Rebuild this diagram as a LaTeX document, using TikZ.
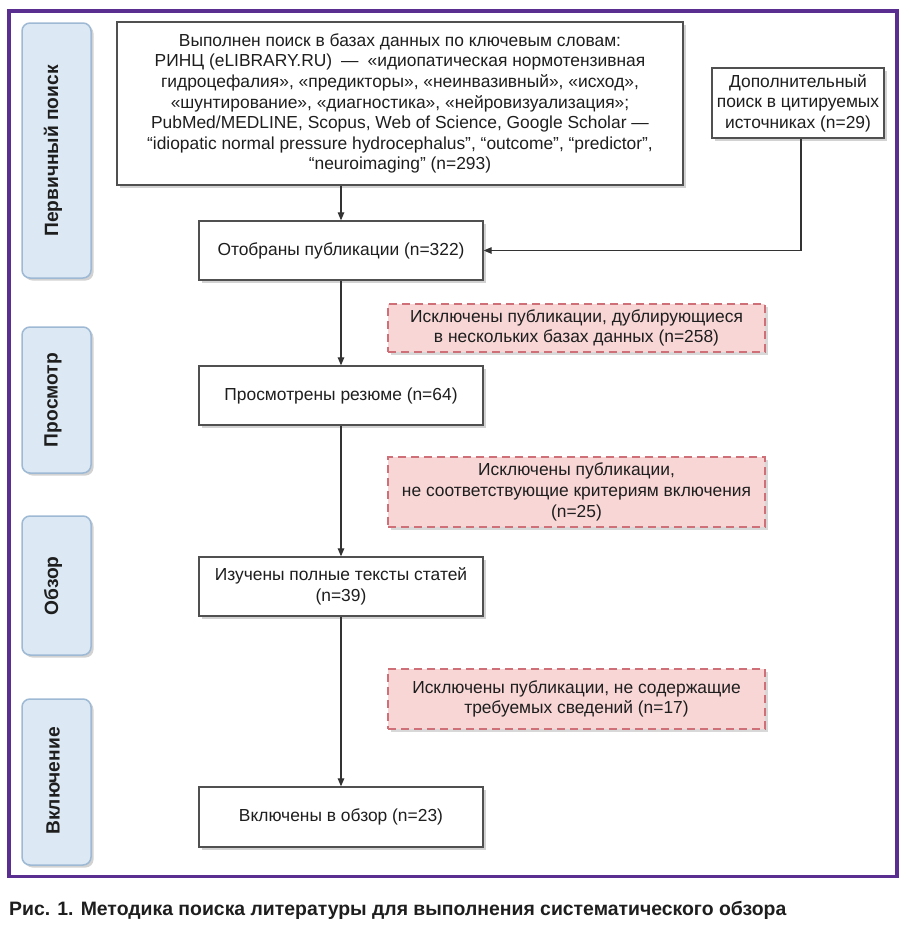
\documentclass[tikz,border=0pt]{standalone}
\usepackage{fontspec}
\setmainfont{Liberation Sans}
\usetikzlibrary{arrows.meta,shadows,calc}
\definecolor{framepurple}{HTML}{5A2D91}
\definecolor{sidefill}{HTML}{DCE9F4}
\definecolor{sidedraw}{HTML}{9DB9D4}
\definecolor{pinkfill}{HTML}{F8D6D6}
\definecolor{pinkdraw}{HTML}{CF6F78}
\definecolor{boxdraw}{HTML}{505050}
\definecolor{txt}{HTML}{1E1E1E}
\definecolor{linec}{HTML}{333333}
\tikzset{
  mainbox/.style={draw=boxdraw,line width=1.3pt,fill=white,align=center,inner sep=0pt,
    text=txt,font=\fontsize{17.4}{20.6}\selectfont,
    drop shadow={shadow xshift=2.5pt,shadow yshift=-2.5pt,opacity=.35,fill=gray}},
  exbox/.style={draw=pinkdraw,line width=1.3pt,fill=pinkfill,dash pattern=on 8pt off 5pt,
    align=center,inner sep=0pt,text=txt,font=\fontsize{17.4}{20.6}\selectfont,
    drop shadow={shadow xshift=2.5pt,shadow yshift=-2.5pt,opacity=.3,fill=gray}},
  sidebox/.style={draw=sidedraw,line width=1.5pt,fill=sidefill,rounded corners=8pt,
    inner sep=0pt,minimum width=69pt,
    drop shadow={shadow xshift=2.5pt,shadow yshift=-2.5pt,opacity=.35,fill=gray}},
  sidelabel/.style={rotate=90,inner sep=0pt,text=txt,font=\fontsize{19.2}{20}\selectfont\bfseries},
  arr/.style={draw=linec,line width=1.2pt,-{Triangle[length=8pt,width=6.5pt]}},
}
\begin{document}
\begin{tikzpicture}[x=1pt,y=-1pt]
\useasboundingbox (0,0) rectangle (909,927);
\fill[white] (0,0) rectangle (909,927);

% sidebars
\node[sidebox,minimum height=255pt] (s1) at (56.5,150.5) {};
\node[sidebox,minimum height=146pt] (s2) at (56.5,400) {};
\node[sidebox,minimum height=139pt] (s3) at (56.5,585.5) {};
\node[sidebox,minimum height=166pt] (s4) at (56.5,782) {};
\node[sidelabel] (l1) at (53,151) {Первичный поиск};
\node[sidelabel] (l2) at (53,400) {Просмотр};
\node[sidelabel] (l3) at (53,586) {Обзор};
\node[sidelabel] (l4) at (53,781) {Включение};

% main boxes
\node[mainbox,minimum width=566pt,minimum height=163pt] (top) at (400,103.5)
 {Выполнен поиск в базах данных по ключевым словам:\\
  РИНЦ (eLIBRARY.RU)\hspace{9pt}—\hspace{9pt}«идиопатическая нормотензивная\\
  гидроцефалия», «предикторы», «неинвазивный», «исход»,\\
  «шунтирование», «диагностика», «нейровизуализация»;\\
  PubMed/MEDLINE, Scopus, Web of Science, Google Scholar —\\
  “idiopatic normal pressure hydrocephalus”, “outcome”, “predictor”,\\
  “neuroimaging” (n=293)};
\node[mainbox,minimum width=172pt,minimum height=70pt] (extra) at (798,103)
 {Дополнительный\\поиск в цитируемых\\источниках (n=29)};
\node[mainbox,minimum width=284pt,minimum height=59pt] (sel) at (341,250.5)
 {Отобраны публикации (n=322)};
\node[mainbox,minimum width=284pt,minimum height=59pt] (scr) at (341,395.5)
 {Просмотрены резюме (n=64)};
\node[mainbox,minimum width=284pt,minimum height=59pt] (full) at (341,586.5)
 {Изучены полные тексты статей\\(n=39)};
\node[mainbox,minimum width=284pt,minimum height=60pt] (inc) at (341,817)
 {Включены в обзор (n=23)};

% exclusion boxes
\node[exbox,minimum width=377pt,minimum height=48pt] (ex1) at (576.5,328)
 {Исключены публикации, дублирующиеся\\в нескольких базах данных (n=258)};
\node[exbox,minimum width=377pt,minimum height=70pt] (ex2) at (576.5,492)
 {Исключены публикации,\\не соответствующие критериям включения\\(n=25)};
\node[exbox,minimum width=377pt,minimum height=60pt] (ex3) at (576.5,699)
 {Исключены публикации, не содержащие\\требуемых сведений (n=17)};

% connectors
\draw[arr] (sel.north |- top.south) -- (sel.north);
\draw[arr] ([xshift=3pt]extra.south) |- (sel.east);
\draw[arr] (sel.south) -- (scr.north);
\draw[arr] (scr.south) -- (full.north);
\draw[arr] (full.south) -- (inc.north);

% frame
\draw[framepurple,line width=3.4pt] (9,11) rectangle (897,876.5);

% caption
\node[anchor=base west,inner sep=0pt,text=txt,font=\fontsize{19.4}{21}\selectfont\bfseries] (cap) at (9,915)
 {Рис. 1. Методика поиска литературы для выполнения систематического обзора};
\end{tikzpicture}
\end{document}
